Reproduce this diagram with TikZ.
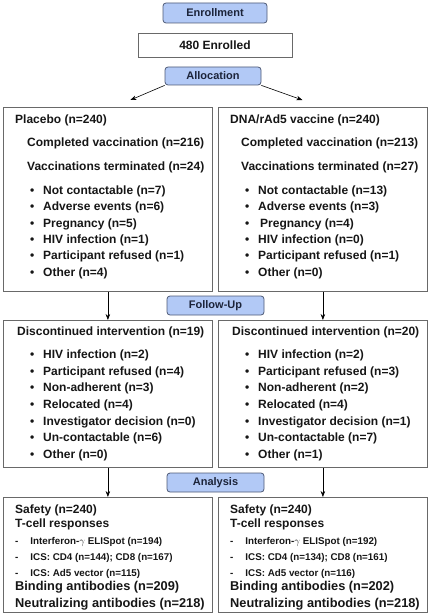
\documentclass[tikz,border=0pt]{standalone}
\usepackage{fontspec}
\setmainfont{Liberation Sans}
\usetikzlibrary{positioning,arrows.meta}
\definecolor{hdrfill}{RGB}{178,201,246}
\definecolor{hdrline}{RGB}{78,90,118}
\definecolor{hdrtext}{RGB}{28,36,58}
\definecolor{boxline}{RGB}{105,105,105}
\definecolor{bodytext}{RGB}{22,22,22}
\tikzset{x=1pt, y=-1pt,
  hdr/.style={draw=hdrline, fill=hdrfill, rounded corners=3pt, line width=0.8pt,
    inner sep=0pt, text=hdrtext, font=\bfseries\fontsize{11}{13}\selectfont},
  panel/.style={draw=boxline, line width=0.8pt, inner sep=0pt, anchor=north west},
  body/.style={anchor=north west, align=left, inner sep=0pt, text=bodytext},
  arr/.style={-{Stealth[length=6pt,width=4.5pt]}, line width=0.6pt}
}
\newcommand{\itm}{\hspace*{15pt}\textbullet\hspace{8.8pt}}
\newcommand{\dsh}{\hspace*{0pt}-\hspace{12pt}}

\begin{document}
\begin{tikzpicture}
\useasboundingbox (0,0) rectangle (430,615);

% headers
\node[hdr, minimum width=104pt, minimum height=20pt] (enrol) at (215,13) {Enrollment};
\node[panel, anchor=center, minimum width=154pt, minimum height=24pt, text=bodytext,
  font=\bfseries\fontsize{12}{14}\selectfont] (enrolled) at (215,45) {480 Enrolled};
\node[hdr, minimum width=96pt, minimum height=18pt] (alloc) at (213,76) {Allocation};
\node[hdr, minimum width=97pt, minimum height=19pt] (follow) at (215.5,305.5) {Follow-Up};
\node[hdr, minimum width=97pt, minimum height=19pt] (anal) at (215.5,482.5) {Analysis};

% allocation boxes
\node[panel, minimum width=209pt, minimum height=184pt] (plac) at (3,107) {};
\node[panel, minimum width=209pt, minimum height=184pt] (vacc) at (218,107) {};
\node[body, font=\bfseries\fontsize{12}{16.4}\selectfont] (placT) at (15,114.5) {%
  Placebo (n=240)\\[6.6pt]
  \hspace*{12pt}Completed vaccination (n=216)\\[7.6pt]
  \hspace*{12pt}Vaccinations terminated (n=24)\\[7.6pt]
  \itm Not contactable (n=7)\\
  \itm Adverse events (n=6)\\
  \itm Pregnancy (n=5)\\
  \itm HIV infection (n=1)\\
  \itm Participant refused (n=1)\\
  \itm Other (n=4)};
\node[body, font=\bfseries\fontsize{12}{16.4}\selectfont] (vaccT) at (230,114.5) {%
  DNA/rAd5 vaccine (n=240)\\[6.6pt]
  \hspace*{11pt}Completed vaccination (n=213)\\[7.6pt]
  \hspace*{11pt}Vaccinations terminated (n=27)\\[7.6pt]
  \itm Not contactable (n=13)\\
  \itm Adverse events (n=3)\\
  \itm \hspace*{2pt}Pregnancy (n=4)\\
  \itm HIV infection (n=0)\\
  \itm Participant refused (n=1)\\
  \itm Other (n=0)};

% follow-up boxes
\node[panel, minimum width=209pt, minimum height=147pt] (discP) at (3,320) {};
\node[panel, minimum width=209pt, minimum height=147pt] (discV) at (218,320) {};
\node[body, font=\bfseries\fontsize{12}{16.7}\selectfont] (discPT) at (15,326.5) {%
  \hspace*{2pt}Discontinued intervention (n=19)\\[6.3pt]
  \itm HIV infection (n=2)\\
  \itm Participant refused (n=4)\\
  \itm Non-adherent (n=3)\\
  \itm Relocated (n=4)\\
  \itm Investigator decision (n=0)\\
  \itm Un-contactable (n=6)\\
  \itm Other (n=0)};
\node[body, font=\bfseries\fontsize{12}{16.7}\selectfont] (discVT) at (230,326.5) {%
  \hspace*{2pt}Discontinued intervention (n=20)\\[6.3pt]
  \itm HIV infection (n=2)\\
  \itm Participant refused (n=3)\\
  \itm Non-adherent (n=2)\\
  \itm Relocated (n=4)\\
  \itm Investigator decision (n=1)\\
  \itm Un-contactable (n=7)\\
  \itm Other (n=1)};

% analysis boxes
\node[panel, minimum width=209pt, minimum height=115pt] (resP) at (3,497) {};
\node[panel, minimum width=209pt, minimum height=115pt] (resV) at (218,497) {};
\node[body, font=\bfseries\fontsize{12}{15}\selectfont] (resPT) at (15,504.5) {%
  Safety (n=240)\\[-1pt]
  T-cell responses\\[2pt]
  {\fontsize{9.8}{12}\selectfont\dsh Interferon-$\gamma$ ELISpot (n=194)}\\[1pt]
  {\fontsize{9.8}{12}\selectfont\dsh ICS: CD4 (n=144); CD8 (n=167)}\\[1pt]
  {\fontsize{9.8}{12}\selectfont\dsh ICS: Ad5 vector (n=115)}\\[-1pt]
  {\fontsize{12.8}{15}\selectfont Binding antibodies (n=209)}\\[2pt]
  {\fontsize{12.8}{15}\selectfont Neutralizing antibodies (n=218)}};
\node[body, font=\bfseries\fontsize{12}{15}\selectfont] (resVT) at (230,504.5) {%
  Safety (n=240)\\[-1pt]
  T-cell responses\\[2pt]
  {\fontsize{9.8}{12}\selectfont\dsh Interferon-$\gamma$ ELISpot (n=192)}\\[1pt]
  {\fontsize{9.8}{12}\selectfont\dsh ICS: CD4 (n=134); CD8 (n=161)}\\[1pt]
  {\fontsize{9.8}{12}\selectfont\dsh ICS: Ad5 vector (n=116)}\\[-1pt]
  {\fontsize{12.8}{15}\selectfont Binding antibodies (n=202)}\\[2pt]
  {\fontsize{12.8}{15}\selectfont Neutralizing antibodies (n=218)}};

% connectors
\coordinate (placTip) at ([xshift=22.5pt,yshift=7pt]plac.north);
\coordinate (vaccTip) at ([xshift=-20.5pt,yshift=7pt]vacc.north);
\draw[arr] (alloc.south west) -- (placTip);
\draw[arr] (alloc.south east) -- (vaccTip);
\draw[arr] (plac.south) -- (discP.north);
\draw[arr] (vacc.south) -- (discV.north);
\draw[arr] (discP.south) -- (resP.north);
\draw[arr] (discV.south) -- (resV.north);

\end{tikzpicture}
\end{document}
